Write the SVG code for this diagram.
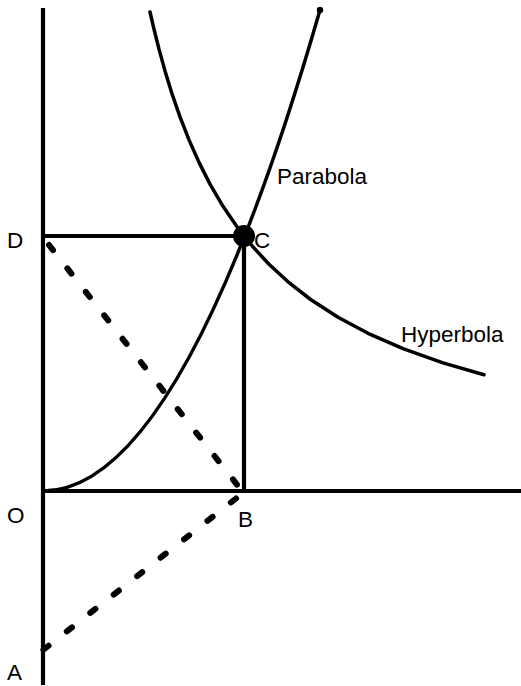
<svg xmlns="http://www.w3.org/2000/svg" width="521" height="686" viewBox="0 0 521 686">
<style>
.ax{stroke:#000;stroke-width:4.2;fill:none}
.cv{stroke:#000;stroke-width:3.5;fill:none;stroke-linecap:round;stroke-linejoin:round}
.ds{stroke:#000;stroke-width:6;fill:none;stroke-linecap:round;stroke-dasharray:6.5 23.3}
text{font-family:"Liberation Sans",Arial,sans-serif;font-size:22.5px;fill:#000}
</style>
<rect width="521" height="686" fill="#fff"/>
<g id="connectors">
<line class="ax" x1="43" y1="8" x2="43" y2="685"/>
<line class="ax" x1="43" y1="491" x2="521" y2="491"/>
<line class="ax" x1="43" y1="236" x2="244" y2="236"/>
<line class="ax" x1="244" y1="236" x2="244" y2="491"/>
<path class="ds" d="M49,245 L242,491"/>
<path class="ds" d="M236,498.5 L38,654"/>
</g>
<g id="parabola">
<path class="cv" d="M43,491 Q181.5,491 320,10"/>
<circle cx="320" cy="10" r="3.2" fill="#000"/>
<text x="277" y="184">Parabola</text>
</g>
<g id="hyperbola">
<polyline class="cv" points="150,12 154,29.2 159,49.1 165,70.9 172,93.7 180,116.9 189,139.9 199,162.4 210,184.1 223,206.3 237,226.8 244,236 253,246.9 269,264.2 288,281.8 311,299.75 338,317.3 368,333.3 403,348.6 443,362.9 484,374.8"/>
<text x="401" y="342">Hyperbola</text>
</g>
<g id="C">
<circle cx="244" cy="236" r="11" fill="#000"/>
<text x="254" y="248">C</text>
</g>
<g id="D"><text x="7" y="248">D</text></g>
<g id="O"><text x="7" y="523">O</text></g>
<g id="B"><text x="238" y="527">B</text></g>
<g id="A"><text x="7" y="680">A</text></g>
</svg>
